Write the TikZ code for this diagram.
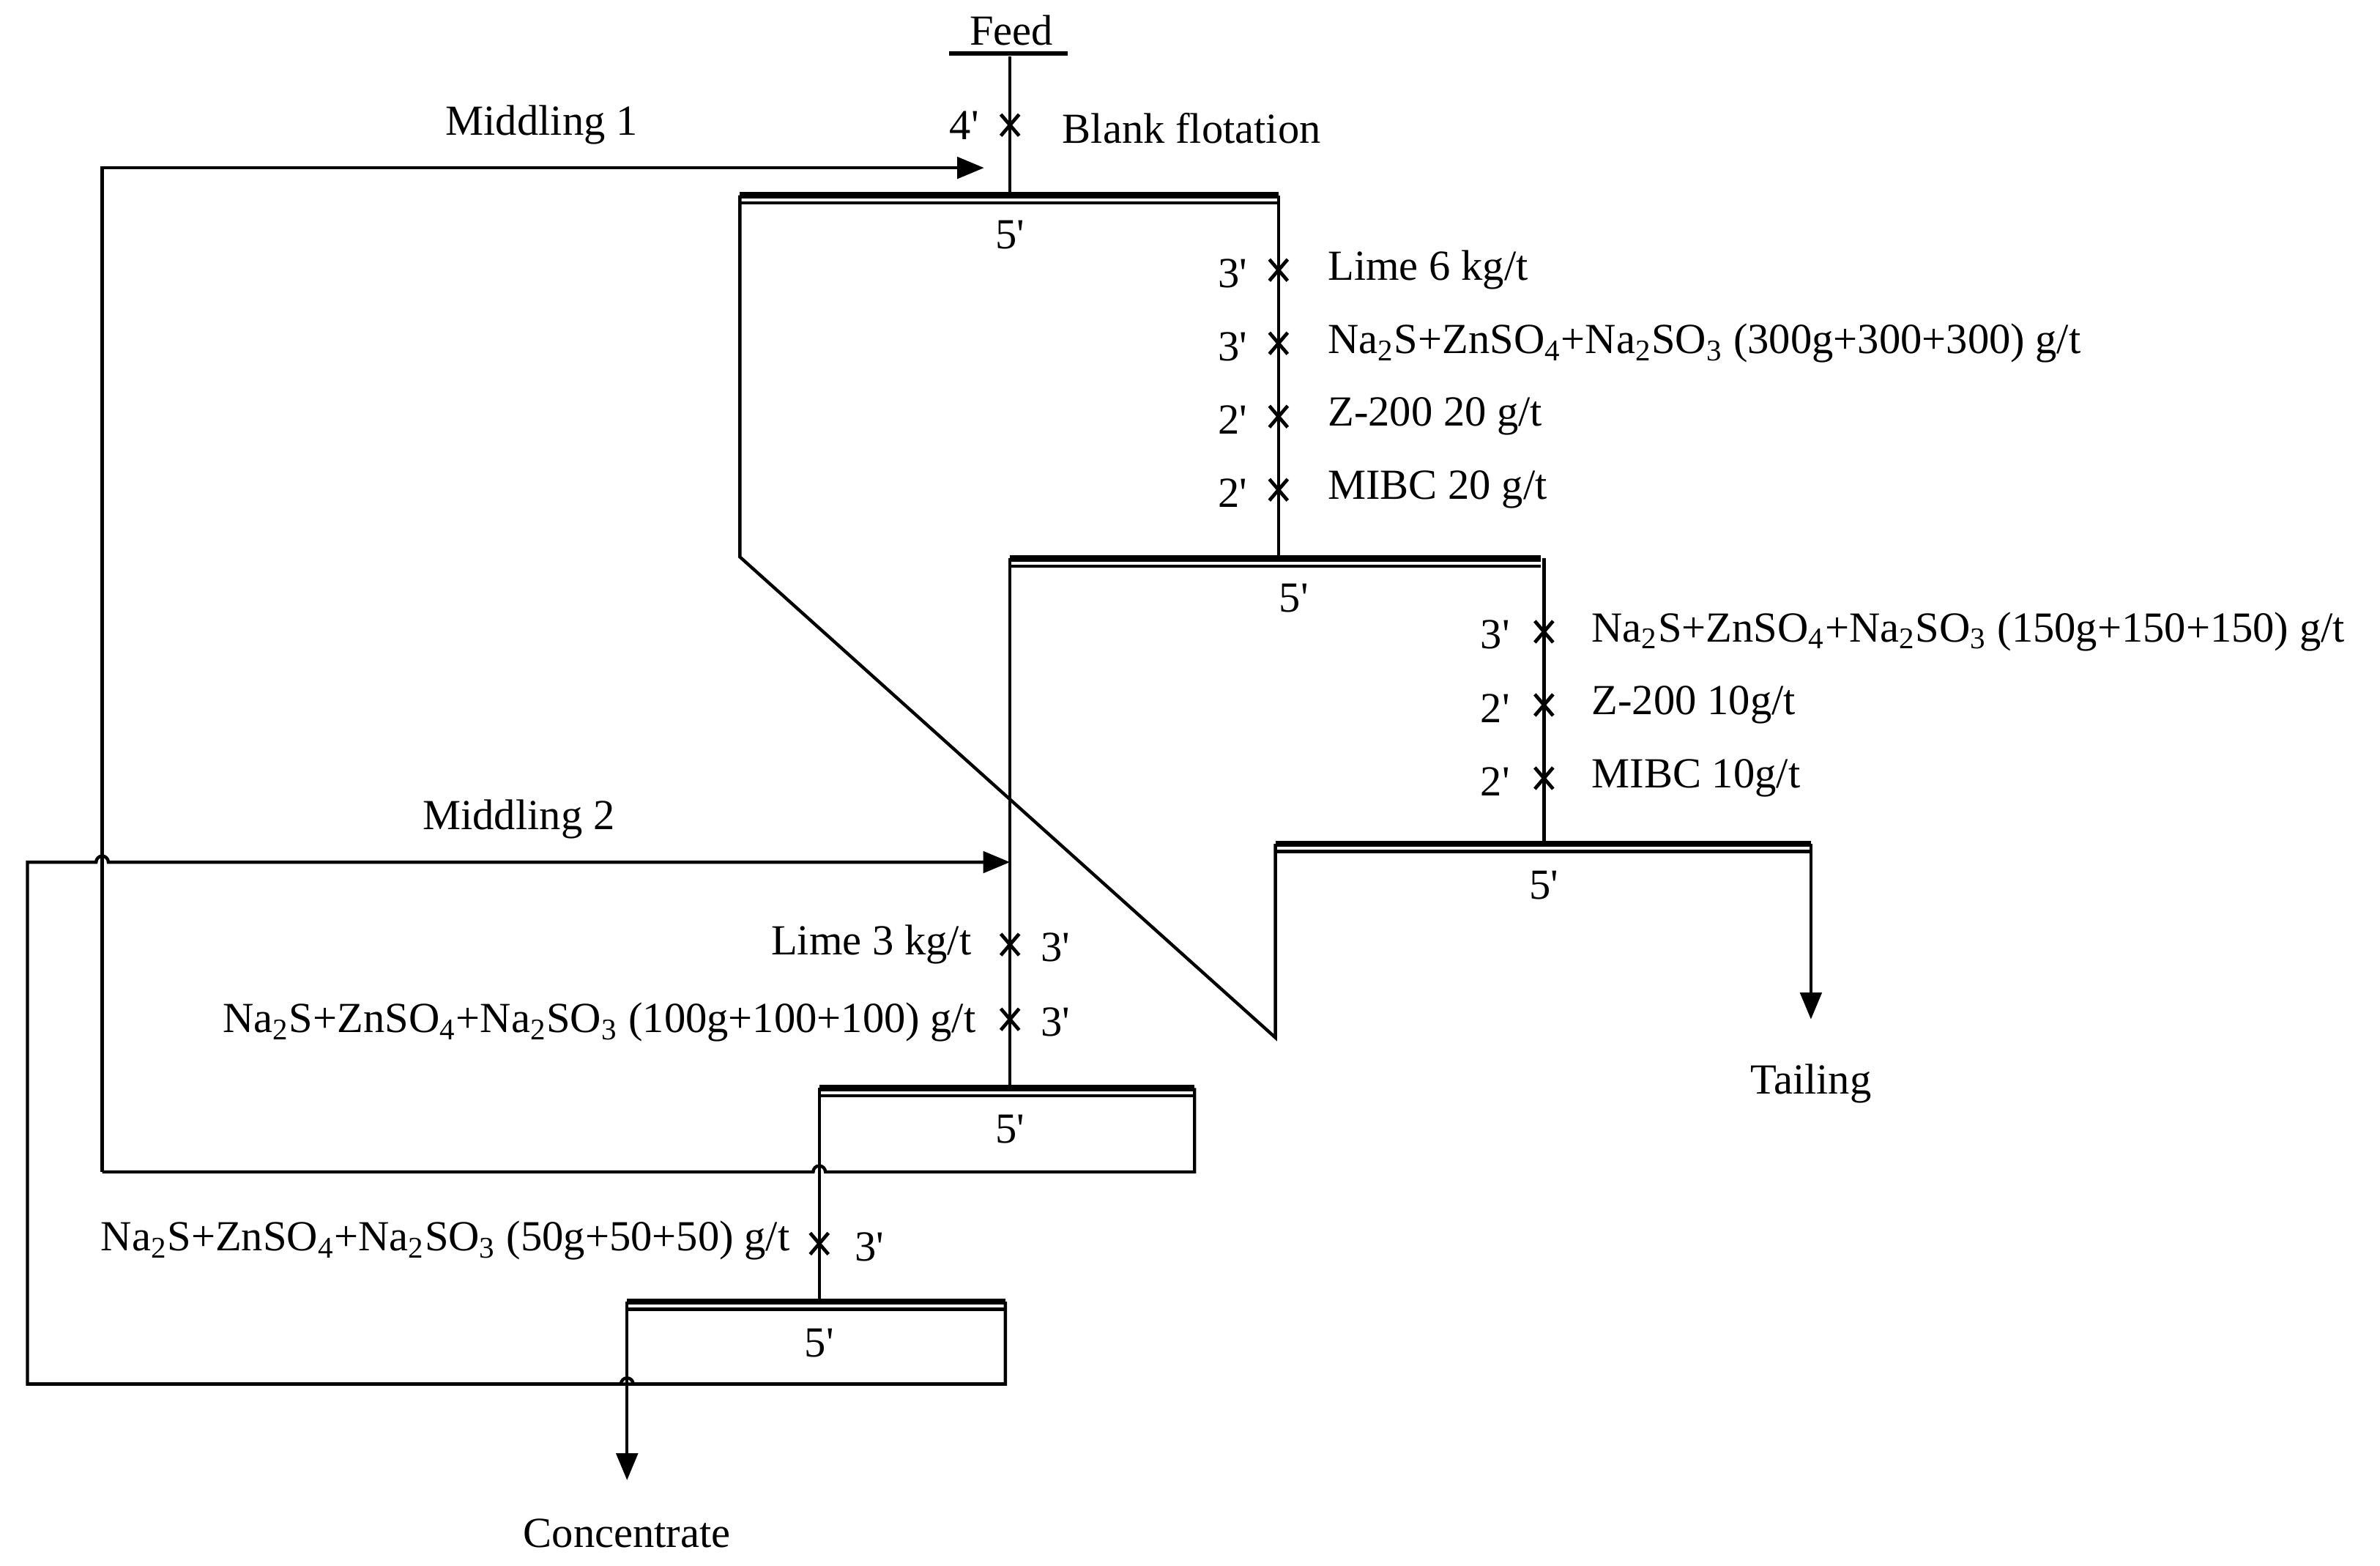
\documentclass[tikz,border=0pt]{standalone}
\usepackage{fontspec}
\setmainfont{Liberation Serif}
\usetikzlibrary{arrows.meta}
\newcommand{\nzs}[1]{Na\textsubscript{2}S+ZnSO\textsubscript{4}+Na\textsubscript{2}SO\textsubscript{3} #1}
\newcommand{\pr}{\textquotesingle}
\begin{document}
\begin{tikzpicture}[x=0.02cm,y=-0.02cm,
  ln/.style={line width=1.2pt},
  ar/.style={ln,-{Triangle[length=10pt,width=8pt]}},
  lab/.style={font=\fontsize{16}{18}\selectfont,inner sep=0pt}]
\useasboundingbox (0,0) rectangle (1560,1026);
\newcommand{\xm}[2]{\draw[line width=1.3pt] (#1-6,#2-7)--(#1+6,#2+7) (#1-6,#2+7)--(#1+6,#2-7);}
\newcommand{\celltop}[3]{\draw[line width=2.4pt] (#1,#3)--(#2,#3); \draw[ln] (#1,#3+5)--(#2,#3+5);}
% Feed
\node[lab] (feed) at (663,20) {Feed};
\draw[line width=1.5pt] (622,35)--(700,35);
\draw[ln] (662,37)--(662,128);
\xm{662}{82}
\node[lab,anchor=east] (t4) at (642,82) {4\pr};
\node[lab,anchor=west] (bf) at (696,84) {Blank flotation};
% Middling 1
\node[lab] (m1) at (355,82) {Middling 1};
\draw[ar] (67,768)--(67,110)--(645,110);
% Cell 1
\celltop{485}{838}{128}
\node[lab] at (662,154) {5\pr};
\draw[ln] (485,128)--(485,365)--(836,680)--(836,553);
\draw[ln] (838,128)--(838,366);
\foreach \y/\t/\n in {177/{Lime 6 kg/t}/3,225/{\nzs{(300g+300+300) g/t}}/3,273/{Z-200 20 g/t}/2,321/{MIBC 20 g/t}/2}{
  \xm{838}{\y}
  \node[lab,anchor=east] at (818,\y+2) {\n\pr};
  \node[lab,anchor=west] at (870,\y) {\t};}
% Cell 2
\celltop{662}{1010}{366}
\node[lab] at (848,392) {5\pr};
\draw[ln] (662,366)--(662,713);
\draw[ln] (1012,366)--(1012,553);
\foreach \y/\t/\n in {414/{\nzs{(150g+150+150) g/t}}/3,462/{Z-200 10g/t}/2,510/{MIBC 10g/t}/2}{
  \xm{1012}{\y}
  \node[lab,anchor=east] at (990,\y+2) {\n\pr};
  \node[lab,anchor=west] at (1043,\y) {\t};}
% Cell 3
\celltop{836}{1187}{553}
\node[lab] at (1012,580) {5\pr};
\draw[ar] (1187,553)--(1187,668);
\node[lab] (tail) at (1187,710) {Tailing};
% Middling 2
\node[lab] (m2) at (340,537) {Middling 2};
\draw[ar] (659,907)--(18,907)--(18,565)--(63,565) arc[start angle=180,end angle=0,radius=0.08cm]--(662,565);
\xm{662}{619}\xm{662}{668}
\node[lab,anchor=east] at (637,619) {Lime 3 kg/t};
\node[lab,anchor=west] at (682,621) {3\pr};
\node[lab,anchor=east] at (640,670) {\nzs{(100g+100+100) g/t}};
\node[lab,anchor=west] at (682,670) {3\pr};
% Cell 4
\celltop{537}{783}{713}
\node[lab] at (662,740) {5\pr};
\draw[ln] (783,713)--(783,768)--(541,768) arc[start angle=0,end angle=180,radius=0.08cm]--(67,768);
\draw[ln] (537,713)--(537,853);
\xm{537}{815}
\node[lab,anchor=east] at (518,813) {\nzs{(50g+50+50) g/t}};
\node[lab,anchor=west] at (560,817) {3\pr};
% Cell 5
\celltop{411}{659}{853}
\node[lab] at (537,880) {5\pr};
\draw[ln] (659,853)--(659,907)--(415,907) arc[start angle=0,end angle=180,radius=0.08cm]--(18,907);
\draw[ar] (411,853)--(411,970);
\node[lab] (conc) at (411,1005) {Concentrate};
\end{tikzpicture}
\end{document}
